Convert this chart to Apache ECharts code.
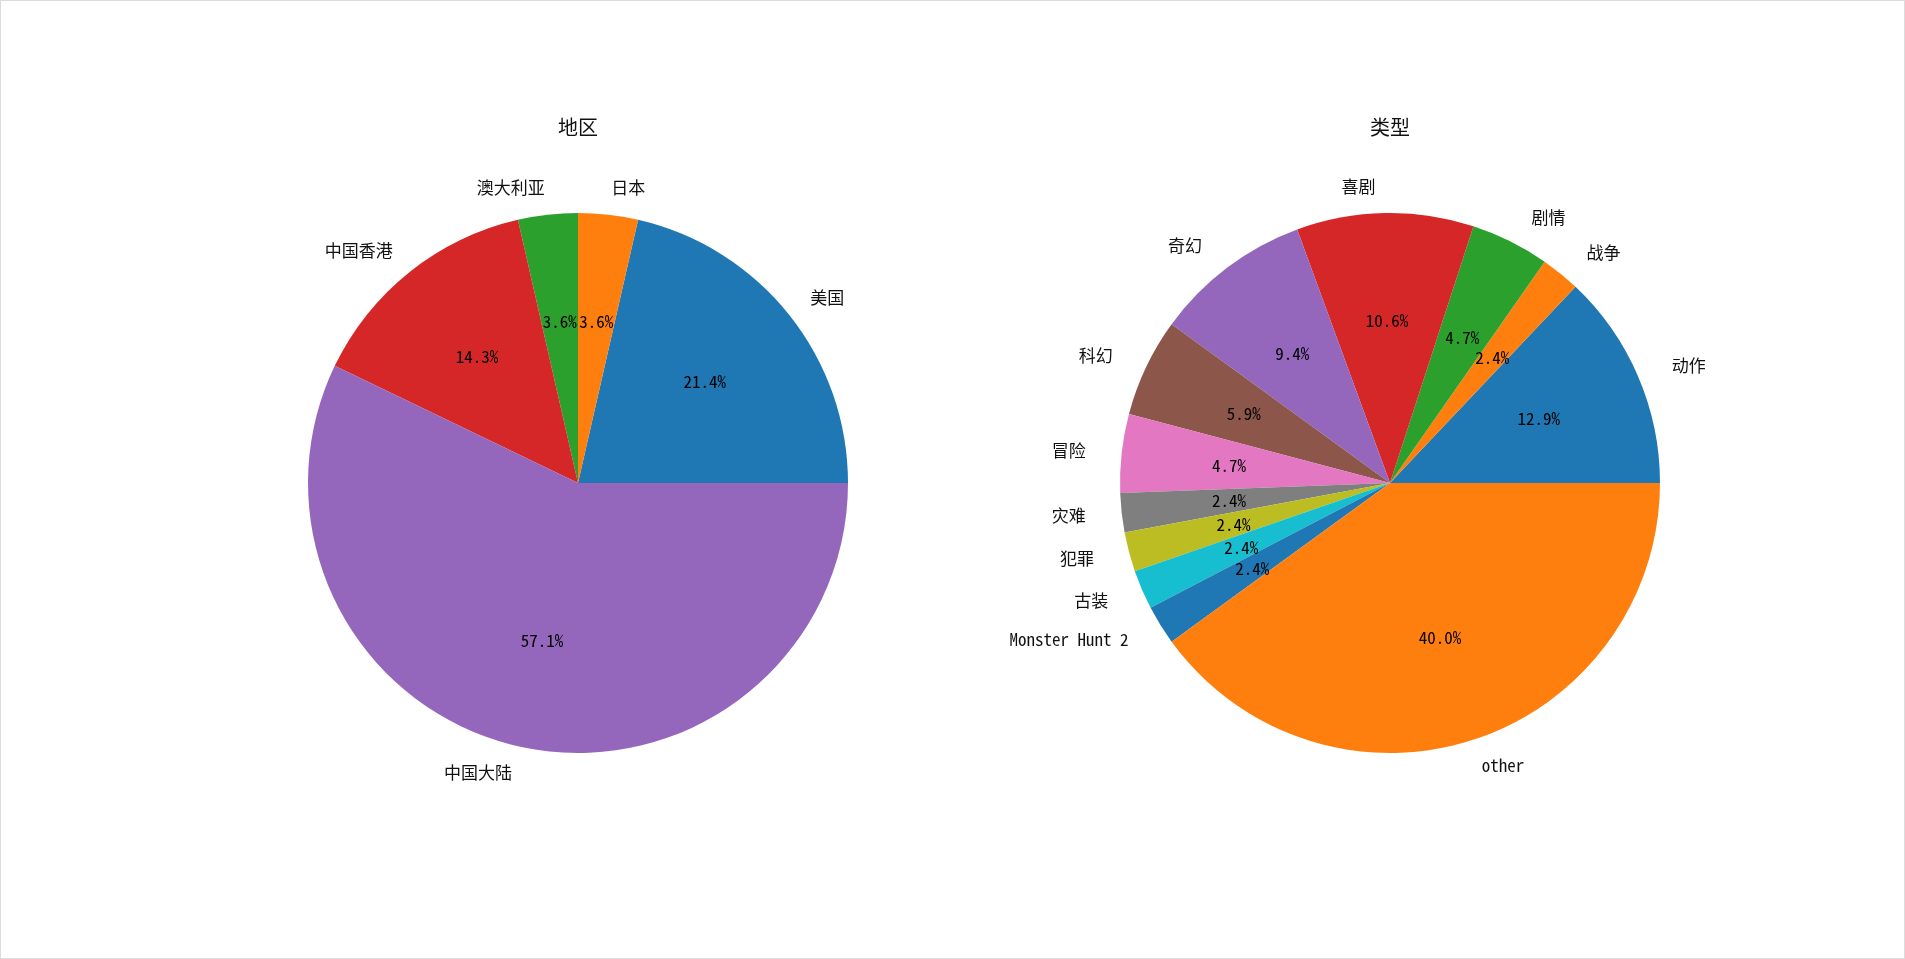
<!DOCTYPE html>
<html><head><meta charset="utf-8">
<script src="https://cdn.jsdelivr.net/npm/echarts@6/dist/echarts.min.js"></script>
<style>
html,body{margin:0;padding:0;background:#fff;}
#chart{position:absolute;left:0;top:0;width:1905px;height:959px;}
#frame{position:absolute;left:0;top:0;width:1905px;height:959px;box-sizing:border-box;border:1px solid #dcdcdc;pointer-events:none;}
</style></head><body>
<div id="chart"></div><div id="frame"></div>
<script>
// ---- data ----
const titles = ['地区', '类型'];
const regionNames = ['美国', '日本', '澳大利亚', '中国香港', '中国大陆'];
const regionCounts = [6, 1, 1, 4, 16];
const genreNames = ['动作', '战争', '剧情', '喜剧', '奇幻', '科幻', '冒险', '灾难', '犯罪', '古装', 'Monster Hunt 2', 'other'];
const genreCounts = [11, 2, 4, 9, 8, 5, 4, 2, 2, 2, 2, 34];

// ---- style ----
const palette = ['#1f77b4', '#ff7f0e', '#2ca02c', '#d62728', '#9467bd', '#8c564b', '#e377c2', '#7f7f7f', '#bcbd22', '#17becf'];
const FONT = "'Noto Sans Mono CJK SC', 'Noto Sans CJK SC', sans-serif";
const R = 270;
const centers = [[578, 483], [1390, 483]];

function buildSeries(names, counts, center, padNames) {
  const total = counts.reduce((a, b) => a + b, 0);
  const mainData = names.map((n, i) => {
    const d = { name: n, value: counts[i], itemStyle: { color: palette[i % palette.length] } };
    if (padNames && n !== 'other') d.label = { padding: [0, 9] };
    return d;
  });
  const pctData = names.map((n, i) => ({ name: n, value: counts[i] }));
  return [
    {
      type: 'pie', center: center, radius: [0, R], startAngle: 0, clockwise: false,
      avoidLabelOverlap: false, silent: true, animation: false,
      itemStyle: { borderWidth: 0 },
      label: { show: true, position: 'outside', alignTo: 'none', formatter: '{b}', fontSize: 17, fontFamily: FONT, color: '#111', distanceToLabelLine: 0 },
      labelLine: { show: false, length: 27, length2: 0 },
      emphasis: { disabled: true },
      data: mainData
    },
    {
      type: 'pie', center: center, radius: [48, R], startAngle: 0, clockwise: false,
      avoidLabelOverlap: false, silent: true, animation: false,
      itemStyle: { color: 'rgba(0,0,0,0)', borderWidth: 0 },
      label: { show: true, position: 'inside', formatter: p => (p.value / total * 100).toFixed(1) + '%', fontSize: 17, fontFamily: FONT, color: '#000', textBorderWidth: 0 },
      labelLine: { show: false },
      emphasis: { disabled: true },
      data: pctData
    }
  ];
}

const chart = echarts.init(document.getElementById('chart'), null, { renderer: 'canvas' });
chart.setOption({
  backgroundColor: '#fff',
  animation: false,
  title: titles.map((t, i) => ({
    text: t, left: centers[i][0], top: 117, textAlign: 'center', padding: 0,
    textStyle: { fontSize: 20, fontWeight: 'normal', fontFamily: FONT, color: '#111' }
  })),
  series: [].concat(
    buildSeries(regionNames, regionCounts, centers[0], false),
    buildSeries(genreNames, genreCounts, centers[1], true)
  )
});
</script>
</body></html>
